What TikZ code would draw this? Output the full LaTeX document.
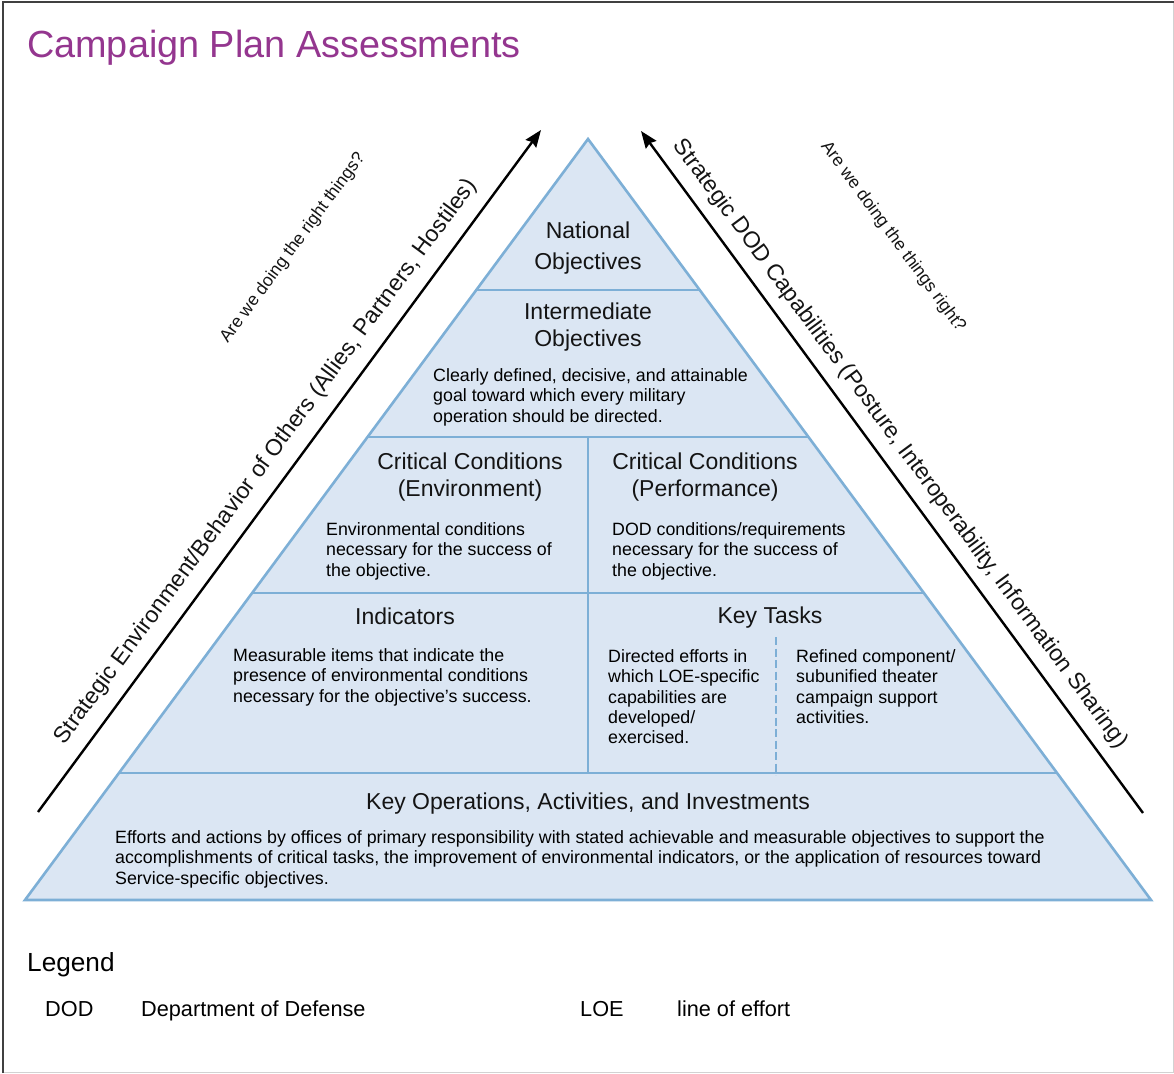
\documentclass[tikz,border=0pt]{standalone}
\usepackage{fontspec}
\setmainfont{Liberation Sans}
\usetikzlibrary{arrows.meta,calc}
\definecolor{pyrFill}{HTML}{DBE6F3}
\definecolor{pyrLine}{HTML}{7DAFD6}
\definecolor{titleC}{HTML}{94368F}
\begin{document}
\begin{tikzpicture}[x=1pt,y=-1pt,>={Stealth[length=17pt,width=13pt,inset=2pt]},
  head/.style={font=\fontsize{23}{27}\selectfont,align=center,inner sep=0pt,text=black!92},
  body/.style={font=\fontsize{17.8}{20.3}\selectfont,align=left,inner sep=0pt,anchor=base west,text=black},
  side/.style={font=\fontsize{23}{27}\selectfont,inner sep=0pt,text=black!92},
  ask/.style={font=\fontsize{17.5}{20}\selectfont,inner sep=0pt,text=black!92},
  legend/.style={font=\fontsize{21.7}{24}\selectfont,inner sep=0pt,anchor=base west,text=black},
  tier/.style={pyrLine,line width=2pt}]
\useasboundingbox (0,0) rectangle (1174,1073);
\fill[white] (0,0) rectangle (1174,1073);
\draw[gray!35,line width=1pt] (1173,2) -- (1173,1072) -- (3,1072);
\draw[black!75,line width=2pt] (3,1073) -- (3,2) -- (1174,2);
\node[anchor=base west,inner sep=0pt,text=titleC,font=\fontsize{37.8}{40}\selectfont] (title) at (27,57) {Campaign Plan Assessments};

\coordinate (apex) at (588,139);
\coordinate (baseL) at (25,900);
\coordinate (baseR) at (1151,900);
\fill[pyrFill] (apex) -- (baseL) -- (baseR) -- cycle;
\draw[tier] ($(apex)!0.1984!(baseL)$) -- ($(apex)!0.1984!(baseR)$);
\draw[tier] ($(apex)!0.3916!(baseL)$) -- ($(apex)!0.3916!(baseR)$);
\draw[tier] ($(apex)!0.5966!(baseL)$) -- ($(apex)!0.5966!(baseR)$);
\draw[tier] ($(apex)!0.8331!(baseL)$) -- ($(apex)!0.8331!(baseR)$);
\draw[tier] (588,437) -- (588,773);
\draw[tier,dash pattern=on 8pt off 3.5pt] (776,637) -- (776,775);
\draw[pyrLine,line width=2.6pt,line join=miter] (apex) -- (baseL) -- (baseR) -- cycle;

\node[head,font=\fontsize{23}{31}\selectfont] (natl) at (588,248) {National\\Objectives};
\node[head] (inter) at (588,327) {Intermediate\\Objectives};
\node[body] (interTxt) at (433,422) {Clearly defined, decisive, and attainable\\goal toward which every military\\operation should be directed.};
\node[head] (envHd) at (470,477) {Critical Conditions\\(Environment)};
\node[body] (envTxt) at (326,576) {Environmental conditions\\necessary for the success of\\the objective.};
\node[head] (perfHd) at (705,477) {Critical Conditions\\(Performance)};
\node[body] (perfTxt) at (612,576) {DOD conditions/requirements\\necessary for the success of\\the objective.};
\node[head] (indHd) at (405,616) {Indicators};
\node[body] (indTxt) at (233,702) {Measurable items that indicate the\\presence of environmental conditions\\necessary for the objective's success.};
\node[head] (taskHd) at (770,618) {Key Tasks};
\node[body] (taskL) at (608,743.6) {Directed efforts in\\which LOE-specific\\capabilities are\\developed/\\exercised.};
\node[body] (taskR) at (796,723.3) {Refined component/\\subunified theater\\campaign support\\activities.};
\node[head] (opsHd) at (588,804) {Key Operations, Activities, and Investments};
\node[body] (opsTxt) at (115,884) {Efforts and actions by offices of primary responsibility with stated achievable and measurable objectives to support the\\accomplishments of critical tasks, the improvement of environmental indicators, or the application of resources toward\\Service-specific objectives.};

\coordinate (tailL) at (38,812);
\coordinate (tipL) at (541,130);
\coordinate (tailR) at (1143,813);
\coordinate (tipR) at (641,131);
\draw[->,line width=2.4pt] (tailL) -- (tipL);
\draw[->,line width=2.4pt] (tailR) -- (tipR);
\node[side,rotate=53.6] (envSide) at (266,462) {Strategic Environment/Behavior of Others (Allies, Partners, Hostiles)};
\node[ask,rotate=53.6] (rightThings) at (293,248) {Are we doing the right things?};
\node[side,rotate=-53.6] (dodSide) at (900,444) {Strategic DOD Capabilities (Posture, Interoperability, Information Sharing)};
\node[ask,rotate=-53.6] (thingsRight) at (893,237) {Are we doing the things right?};

\node[legend,font=\fontsize{26.2}{28}\selectfont] (legTitle) at (27,971) {Legend};
\node[legend] (dodAbbr) at (45,1016) {DOD};
\node[legend] (dodDef) at (141,1016) {Department of Defense};
\node[legend] (loeAbbr) at (580,1016) {LOE};
\node[legend] (loeDef) at (677,1016) {line of effort};
\end{tikzpicture}
\end{document}
